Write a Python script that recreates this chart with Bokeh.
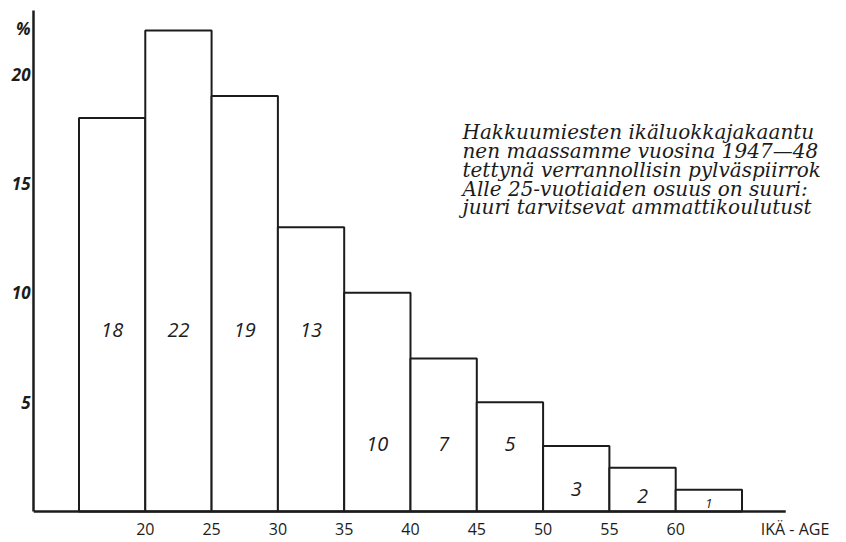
from bokeh.plotting import figure
from bokeh.models import Range1d, FixedTicker
from bokeh.core.properties import value
from bokeh.embed import file_html
from bokeh.resources import INLINE

# ---- data ----
age_start = [15, 20, 25, 30, 35, 40, 45, 50, 55, 60]
age_end = [20, 25, 30, 35, 40, 45, 50, 55, 60, 65]
percent = [18, 22, 19, 13, 10, 7, 5, 3, 2, 1]
bar_labels = ["18", "22", "19", "13", "10", "7", "5", "3", "2", "1"]
x_ticks = [20, 25, 30, 35, 40, 45, 50, 55, 60]
x_title = "IKÄ - AGE"
y_ticks = [5, 10, 15, 20]
y_title = "%"
caption_lines = [
    "Hakkuumiesten  ikäluokkajakaantu",
    "nen maassamme vuosina 1947—48",
    "tettynä verrannollisin pylväspiirrok",
    "Alle 25-vuotiaiden osuus on suuri:",
    "juuri tarvitsevat ammattikoulutust",
]

INK = "#1c1c1c"
HAND = "Open Sans"

X0, X1 = 11.57, 72.88
Y0, Y1 = -0.27, 22.91
X_AXIS_END = 68.3
X_TITLE_POS = 69.0
Y_TITLE_POS = 22.1

p = figure(width=846, height=542, output_backend="svg", toolbar_location=None,
           x_range=Range1d(X0, X1), y_range=Range1d(Y0, Y1),
           min_border_left=33, min_border_right=0, min_border_top=10, min_border_bottom=22)
p.outline_line_color = None
p.xgrid.visible = False
p.ygrid.visible = False
p.background_fill_color = "white"
p.border_fill_color = "white"

# bars
p.quad(left=age_start, right=age_end, bottom=0, top=percent,
       fill_color="white", line_color=INK, line_width=2)

# baseline (x axis line), ending short of the right edge
p.segment(x0=[X0], y0=[0], x1=[X_AXIS_END], y1=[0], line_color=INK, line_width=2.5)

# labels inside bars
centers = [(a + b) / 2 for a, b in zip(age_start, age_end)]
label_y = [8.3 if h >= 13 else (3.1 if h >= 5 else h * 0.35) for h in percent]
label_size = ["20px" if h >= 2 else "13px" for h in percent]
p.text(x=centers, y=label_y, text=bar_labels, text_align="center", text_baseline="middle",
       text_font=value(HAND), text_font_style="italic", text_font_size=label_size,
       text_color=INK)

# x axis: tick labels only (line drawn as baseline above)
xa = p.xaxis[0]
xa.ticker = FixedTicker(ticks=x_ticks + [X_TITLE_POS])
xa.major_label_overrides = {X_TITLE_POS: x_title}
xa.axis_line_color = None
xa.major_tick_out = 0
xa.major_tick_in = 0
xa.minor_tick_out = 0
xa.minor_tick_in = 0
xa.major_label_standoff = 0
xa.major_label_text_font = HAND
xa.major_label_text_font_size = "16px"
xa.major_label_text_color = INK

# y axis
ya = p.yaxis[0]
ya.ticker = FixedTicker(ticks=y_ticks + [Y_TITLE_POS])
ya.major_label_overrides = {Y_TITLE_POS: y_title}
ya.bounds = (0, Y1)
ya.axis_line_width = 2.5
ya.axis_line_color = INK
ya.major_tick_out = 0
ya.major_tick_in = 0
ya.minor_tick_out = 0
ya.minor_tick_in = 0
ya.major_label_standoff = 3
ya.major_label_text_font = HAND
ya.major_label_text_font_style = "bold italic"
ya.major_label_text_font_size = "17px"
ya.major_label_text_color = INK

# caption paragraph
cap_x = [43.92] * len(caption_lines)
cap_y = [17.36 - i * (19 / 22) for i in range(len(caption_lines))]
p.text(x=cap_x, y=cap_y, text=caption_lines, text_align="left", text_baseline="middle",
       text_font=value("DejaVu Serif"), text_font_style="italic", text_font_size="20px",
       text_color=INK)

open("out.html", "w").write(file_html(p, INLINE))
